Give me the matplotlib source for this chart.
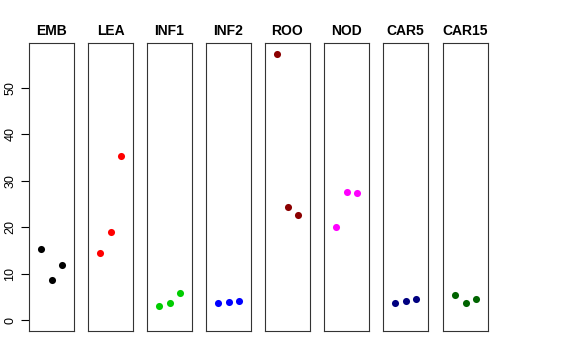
import matplotlib
matplotlib.use("Agg")
import matplotlib.pyplot as plt

plt.rcParams['font.family'] = ['Liberation Sans', 'DejaVu Sans']

# ---- data ----
groups = ['EMB', 'LEA', 'INF1', 'INF2', 'ROO', 'NOD', 'CAR5', 'CAR15']
colors = ['black', 'red', '#00CD00', 'blue', '#8B0000', 'magenta', '#000080', '#006400']
values = [
    [15.4, 8.6, 11.9],
    [14.5, 19.0, 35.4],
    [3.0, 3.6, 5.8],
    [3.6, 3.95, 4.0],
    [57.4, 24.4, 22.6],
    [20.1, 27.5, 27.3],
    [3.7, 4.2, 4.5],
    [5.3, 3.7, 4.45],
]
yticks = [0, 10, 20, 30, 40, 50]

fig = plt.figure(figsize=(5.76, 3.6), dpi=100)
W, H = 576.0, 360.0
lefts = [29, 88, 147, 206, 265, 324, 383, 443]
pw, top, bottom = 45, 43, 331

for i, (name, col, vals) in enumerate(zip(groups, colors, values)):
    ax = fig.add_axes([lefts[i] / W, 1 - bottom / H, pw / W, (bottom - top) / H])
    ax.scatter(range(1, len(vals) + 1), vals, s=26, color=col, linewidths=0, zorder=3)
    ax.set_xlim(-0.2, 4.2)
    ax.set_ylim(-2.37, 59.7)
    ax.set_xticks([])
    ax.set_title(name, fontsize=10, fontweight='bold', pad=6)
    for sp in ax.spines.values():
        sp.set_linewidth(0.8)
        sp.set_color('#333333')
    if i == 0:
        ax.set_yticks(yticks)
        ax.set_yticklabels([str(t) for t in yticks], rotation=90, va='center', fontsize=9)
        ax.tick_params(axis='y', length=6, width=0.8, pad=3)
    else:
        ax.set_yticks([])

fig.savefig('out.png', dpi=100)
